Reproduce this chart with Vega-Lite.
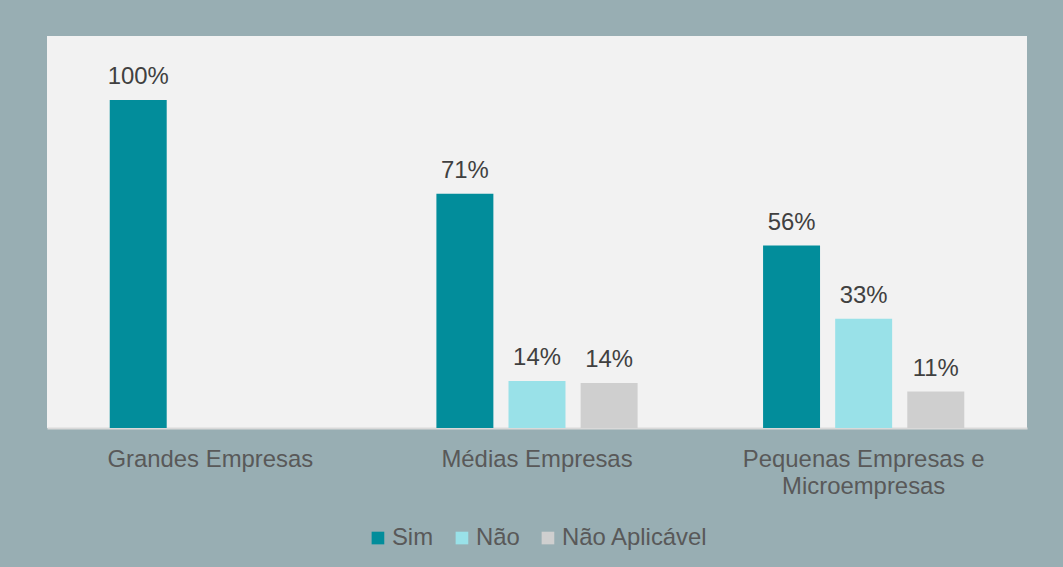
{
  "$schema": "https://vega.github.io/schema/vega-lite/v6.json",
  "width": 980,
  "height": 392,
  "autosize": {"type": "none"},
  "padding": {"left": 47, "top": 36, "right": 36, "bottom": 139},
  "background": "#98aeb3",
  "config": {
    "view": {"fill": "#f2f2f2", "stroke": null},
    "font": "Liberation Sans",
    "legend": {"layout": {"bottom": {"anchor": "middle"}}}
  },
  "data": {
    "values": [
      {"cat": "Grandes Empresas", "resp": "Sim", "pct": 1.0},
      {"cat": "Médias Empresas", "resp": "Sim", "pct": 0.714},
      {"cat": "Médias Empresas", "resp": "Não", "pct": 0.143},
      {"cat": "Médias Empresas", "resp": "Não Aplicável", "pct": 0.137},
      {"cat": "Pequenas Empresas e Microempresas", "resp": "Sim", "pct": 0.556},
      {"cat": "Pequenas Empresas e Microempresas", "resp": "Não", "pct": 0.333},
      {"cat": "Pequenas Empresas e Microempresas", "resp": "Não Aplicável", "pct": 0.111}
    ]
  },
  "encoding": {
    "x": {
      "field": "cat",
      "type": "nominal",
      "sort": ["Grandes Empresas", "Médias Empresas", "Pequenas Empresas e Microempresas"],
      "scale": {"paddingInner": 0, "paddingOuter": 0},
      "axis": {
        "title": null,
        "labelAngle": 0,
        "ticks": false,
        "domainColor": "#d9d9d9",
        "domainWidth": 2,
        "labelFontSize": 23.9,
        "labelColor": "#595959",
        "labelPadding": 19,
        "labelLineHeight": 27,
        "labelLimit": 0,
        "labelExpr": "datum.label == 'Pequenas Empresas e Microempresas' ? ['Pequenas Empresas e', 'Microempresas'] : datum.label"
      }
    },
    "xOffset": {
      "field": "resp",
      "type": "nominal",
      "scale": {"domain": ["Sim", "Não", "Não Aplicável"], "paddingInner": 0.21, "paddingOuter": 0.87}
    },
    "y": {
      "field": "pct",
      "type": "quantitative",
      "scale": {"domain": [0, 1.195]},
      "axis": null
    }
  },
  "layer": [
    {
      "mark": {"type": "bar"},
      "encoding": {
        "color": {
          "field": "resp",
          "type": "nominal",
          "scale": {"domain": ["Sim", "Não", "Não Aplicável"], "range": ["#028d9b", "#99e1e8", "#cfcfcf"]},
          "legend": {
            "title": null,
            "orient": "bottom",
            "direction": "horizontal",
            "symbolType": "square",
            "symbolSize": 160,
            "symbolStrokeWidth": 0,
            "labelFontSize": 23.9,
            "labelColor": "#595959",
            "labelOffset": 2,
            "columnPadding": 16,
            "offset": 28,
            "labelLimit": 0
          }
        }
      }
    },
    {
      "mark": {"type": "text", "baseline": "bottom", "dy": -11, "fontSize": 23.9, "color": "#404040"},
      "encoding": {"text": {"field": "pct", "type": "quantitative", "format": ".0%"}}
    }
  ]
}
